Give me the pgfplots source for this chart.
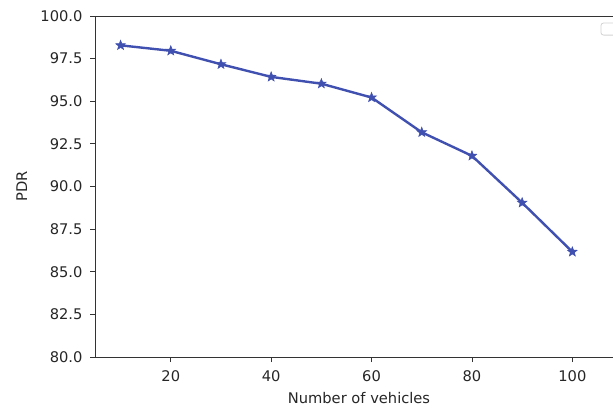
\documentclass[border=0pt]{standalone}
\usepackage{pgfplots}
\pgfplotsset{compat=1.18}
\usepackage{fontspec}
\setmainfont{DejaVu Sans}
\definecolor{lineblue}{RGB}{64,80,176}
\pgfdeclareplotmark{fstar}{%
  \pgfpathmoveto{\pgfpointpolar{90}{\pgfplotmarksize}}%
  \pgfpathlineto{\pgfpointpolar{126}{0.42\pgfplotmarksize}}%
  \pgfpathlineto{\pgfpointpolar{162}{\pgfplotmarksize}}%
  \pgfpathlineto{\pgfpointpolar{198}{0.42\pgfplotmarksize}}%
  \pgfpathlineto{\pgfpointpolar{234}{\pgfplotmarksize}}%
  \pgfpathlineto{\pgfpointpolar{270}{0.42\pgfplotmarksize}}%
  \pgfpathlineto{\pgfpointpolar{306}{\pgfplotmarksize}}%
  \pgfpathlineto{\pgfpointpolar{342}{0.42\pgfplotmarksize}}%
  \pgfpathlineto{\pgfpointpolar{18}{\pgfplotmarksize}}%
  \pgfpathlineto{\pgfpointpolar{54}{0.42\pgfplotmarksize}}%
  \pgfpathclose
  \pgfusepathqfillstroke}
\begin{document}
\begin{tikzpicture}
\begin{scope}
\clip (-71.6pt,-38.25pt) rectangle (388.1pt,267.75pt);
\begin{axis}[
  scale only axis,
  width=395.25pt, height=255.75pt,
  xmin=5, xmax=110, ymin=80, ymax=100,
  xtick={20,40,60,80,100},
  ytick={80,82.5,85,87.5,90,92.5,95,97.5,100},
  axis line style={black!80, line width=0.75pt},
  tick align=outside,
  major tick length=3.75pt,
  tick style={black!80, line width=0.65pt},
  xtick pos=bottom, ytick pos=left,
  /pgf/number format/assume math mode=true,
  yticklabel style={xshift=-2.5pt, /pgf/number format/.cd, fixed, fixed zerofill, precision=1},
  xticklabel style={yshift=-3pt},
  tick label style={font=\fontsize{11}{13}\selectfont, text=black!85},
  label style={font=\fontsize{11}{13}\selectfont, text=black!85},
  xlabel={Number of vehicles},
  ylabel={PDR},
  xlabel style={at={(axis description cs:0.5,-0.12)}, anchor=center},
  ylabel style={at={(axis description cs:-0.14,0.5)}, anchor=center, rotate=0},
  clip=false,
]
\addplot[color=lineblue, line width=1.8pt, mark=fstar, mark size=3.8pt,
  mark options={fill=lineblue, draw=lineblue, line width=0.4pt}]
  coordinates {
  (10,98.28) (20,97.96) (30,97.17) (40,96.43) (50,96.03)
  (60,95.22) (70,93.18) (80,91.80) (90,89.05) (100,86.17)
  };
\draw[gray!35, line width=0.6pt, rounded corners=2pt]
  (rel axis cs:0.959,0.944) rectangle (rel axis cs:0.988,0.9795);
\end{axis}
\end{scope}
\pgfresetboundingbox
\path[use as bounding box] (-71.6pt,-38.25pt) rectangle (388.1pt,267.75pt);
\end{tikzpicture}
\end{document}
